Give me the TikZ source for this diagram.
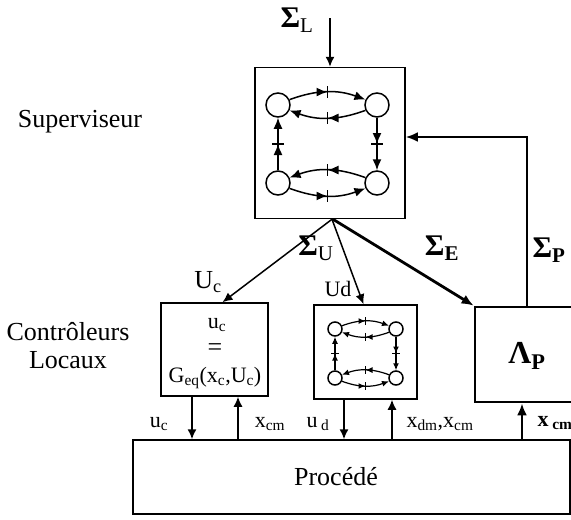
\documentclass[tikz,border=0pt]{standalone}
\usepackage{fontspec}
\setmainfont{Liberation Serif}
\usetikzlibrary{arrows.meta,decorations.markings}
\newcommand\autom[7]{%
  \node[stc, minimum size=#6] (#1a) at (#2,#4) {};
  \node[stc, minimum size=#6] (#1b) at (#3,#4) {};
  \node[stc, minimum size=#6] (#1c) at (#2,#5) {};
  \node[stc, minimum size=#6] (#1d) at (#3,#5) {};
  \draw[#7] (#1a.25) to[bend left=20] (#1b.155);
  \draw[#7] (#1b.-155) to[bend left=20] (#1a.-25);
  \draw[#7] (#1b) -- (#1d);
  \draw[#7] (#1c) -- (#1a);
  \draw[#7] (#1d.155) to[bend right=20] (#1c.25);
  \draw[#7] (#1c.-25) to[bend right=20] (#1d.-155);
}
\begin{document}
\begin{tikzpicture}[x=1pt,y=-1pt,
  box/.style={draw, line width=1.5pt, rectangle, inner sep=0pt},
  tbox/.style={draw, line width=2.8pt, rectangle, inner sep=0pt},
  arr/.style={-{Latex[length=10pt,width=9pt]}, line width=1.5pt},
  tarr/.style={-{Latex[length=12pt,width=10pt]}, line width=2.8pt},
  stc/.style={draw, circle, line width=1.5pt, inner sep=0pt},
  bigedge/.style={line width=1.5pt, -{Latex[length=11pt,width=9pt]},
    postaction={decorate}, decoration={markings, mark=at position 0.5 with
    {\arrow{Latex[length=11pt,width=9pt]}\draw[line width=1.2pt,-] (0pt,-6pt) -- (0pt,6pt);}}},
  smalledge/.style={line width=1.2pt, -{Latex[length=7pt,width=6pt]},
    postaction={decorate}, decoration={markings, mark=at position 0.5 with
    {\arrow{Latex[length=7pt,width=6pt]}\draw[line width=1pt,-] (0pt,-4pt) -- (0pt,4pt);}}},
  lbl/.style={font=\fontsize{26}{28}\selectfont, inner sep=0pt},
  slbl/.style={font=\fontsize{22}{24}\selectfont, inner sep=0pt},
  glbl/.style={font=\fontsize{30}{32}\selectfont, inner sep=0pt},
]
\useasboundingbox (0,0) rectangle (571,520);

% boxes
\node[box, minimum width=150pt, minimum height=151pt] (sup) at (330,143) {};
\node[box, minimum width=107pt, minimum height=93pt] (uc) at (214.5,349.5) {};
\node[box, minimum width=103pt, minimum height=94pt] (ud) at (365.5,352) {};
\node[tbox, minimum width=97pt, minimum height=95pt] (lam) at (523.5,354.5) {};
\node[box, minimum width=437pt, minimum height=74pt] (proc) at (351.5,477) {};

% automata
\autom{s}{278}{377}{105}{183}{24pt}{bigedge}
\autom{t}{335}{396}{329}{378}{14pt}{smalledge}

% side labels
\node[lbl] (supl) at (80,122) {Superviseur};
\node[lbl, align=center] (ctl) at (68,346) {Contrôleurs\\Locaux};

% top input
\coordinate (sltop) at (330,18);
\draw[arr] (sltop) -- (sup.north);
\node[glbl] (sigl) at (297,20) {\textbf{Σ}\textsubscript{L}};

% supervisor outputs
\draw[arr] ([xshift=2pt]sup.south) -- ([xshift=8pt]uc.north);
\draw[arr] ([xshift=2pt]sup.south) -- ([xshift=-2pt]ud.north);
\draw[tarr] ([xshift=3pt]sup.south) -- (lam.north west);
\node[glbl] (sigu) at (316,248) {\textbf{Σ}\textsubscript{U}};
\node[glbl] (sige) at (442,248) {\textbf{Σ}\textsubscript{\textbf{E}}};
\node[lbl] (ucl) at (208,282) {U\textsubscript{c}};
\node[slbl] (udl) at (338,289) {Ud};

% feedback
\coordinate (fb) at (527,137);
\draw[tarr] (lam.north -| fb) |- (sup.east |- fb);
\node[glbl] (sigp) at (549,250) {\textbf{Σ}\textsubscript{\textbf{P}}};

% box contents
\node[slbl] (uct) at (217,325) {u\textsubscript{c}};
\node[lbl] (eqt) at (215,350) {=};
\node[slbl] (gt) at (215,378) {G\textsubscript{eq}(x\textsubscript{c},U\textsubscript{c})};
\node[font=\fontsize{32}{34}\selectfont, inner sep=0pt] (lamt) at (527,356) {\textbf{Λ}\textsubscript{\textbf{P}}};
\node[lbl] (proct) at (336,477) {Procédé};

% process connections
\coordinate (c1) at (192,0);
\coordinate (c2) at (238,0);
\coordinate (c3) at (344,0);
\coordinate (c4) at (392,0);
\coordinate (c5) at (522,0);
\draw[arr] (uc.south -| c1) -- (proc.north -| c1);
\draw[arr] (proc.north -| c2) -- (uc.south -| c2);
\draw[arr] (ud.south -| c3) -- (proc.north -| c3);
\draw[arr] (proc.north -| c4) -- (ud.south -| c4);
\draw[tarr] (proc.north -| c5) -- (lam.south -| c5);

\node[slbl] (l1) at (159,424) {u\textsubscript{c}};
\node[slbl] (l2) at (270,424) {x\textsubscript{cm}};
\node[slbl] (l3) at (318,424) {u\,\textsubscript{d}};
\node[slbl] (l4) at (440,424) {x\textsubscript{dm},x\textsubscript{cm}};
\node[slbl] (l5) at (555,423) {\textbf{x}\,\textsubscript{\textbf{cm}}};
\end{tikzpicture}
\end{document}
